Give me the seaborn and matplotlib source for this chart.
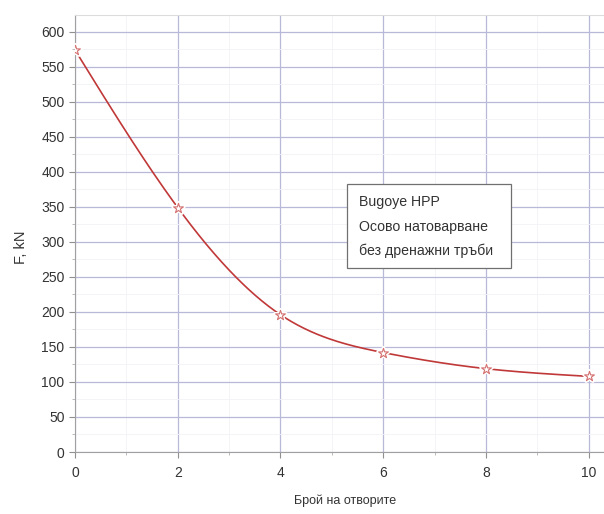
import numpy as np
import pandas as pd
import matplotlib
matplotlib.use("Agg")
import matplotlib.pyplot as plt
import seaborn as sns
from matplotlib.ticker import MultipleLocator
from matplotlib.patches import Rectangle

openings = [0, 2, 4, 6, 8, 10]
force_kn = [574, 349, 196, 142, 119, 108]
x_ticks = [0, 2, 4, 6, 8, 10]
y_ticks = [0, 50, 100, 150, 200, 250, 300, 350, 400, 450, 500, 550, 600]
legend_lines = ["Bugoye HPP", "Осово натоварване", "без дренажни тръби"]
x_label = "Брой на отворите"
y_label = "F, kN"


def natural_spline(x, y, xs):
    x = np.asarray(x, float); y = np.asarray(y, float)
    n = len(x); h = np.diff(x)
    A = np.zeros((n, n)); b = np.zeros(n)
    A[0, 0] = 1; A[-1, -1] = 1
    for i in range(1, n - 1):
        A[i, i - 1] = h[i - 1]; A[i, i] = 2 * (h[i - 1] + h[i]); A[i, i + 1] = h[i]
        b[i] = 6 * ((y[i + 1] - y[i]) / h[i] - (y[i] - y[i - 1]) / h[i - 1])
    M = np.linalg.solve(A, b)
    k = np.clip(np.searchsorted(x, xs) - 1, 0, n - 2)
    t0 = x[k + 1] - xs; t1 = xs - x[k]; hk = h[k]
    return (M[k] * t0**3 / (6 * hk) + M[k + 1] * t1**3 / (6 * hk)
            + (y[k] / hk - M[k] * hk / 6) * t0 + (y[k + 1] / hk - M[k + 1] * hk / 6) * t1)


sns.set_theme(style="white")
plt.rcParams['font.family'] = ['Liberation Sans', 'DejaVu Sans']

fig = plt.figure(figsize=(6.04, 5.14), dpi=100)
ax = fig.add_axes([75 / 604, 1 - 452 / 514, 1 - 75 / 604, (452 - 15) / 514])

xs = np.linspace(openings[0], openings[-1], 400)
curve = pd.DataFrame({"x": xs, "y": natural_spline(openings, force_kn, xs)})
pts = pd.DataFrame({"x": openings, "y": force_kn})

sns.lineplot(data=curve, x="x", y="y", ax=ax, color="#c03838", linewidth=1.2, zorder=3)
sns.scatterplot(data=pts, x="x", y="y", ax=ax, marker="*", s=70,
                facecolor="white", edgecolor="white", linewidth=2.5, zorder=4)
sns.scatterplot(data=pts, x="x", y="y", ax=ax, marker="*", s=55,
                facecolor="white", edgecolor="#d47070", linewidth=0.8, zorder=5)

ax.set_xlim(0, 10.3)
ax.set_ylim(0, 624)
ax.set_xticks(x_ticks)
ax.set_yticks(y_ticks)
ax.xaxis.set_minor_locator(MultipleLocator(1))
ax.yaxis.set_minor_locator(MultipleLocator(25))

ax.grid(which="major", color="#b8b8d8", linewidth=0.9, zorder=0)
ax.grid(which="minor", color="#f2f2f7", linewidth=0.6, zorder=0)
ax.set_axisbelow(True)

ax.spines["right"].set_visible(False)
ax.spines["top"].set_color("#dcdcdc")
ax.spines["left"].set_color("#a0a0a0")
ax.spines["bottom"].set_color("#a0a0a0")
for s in ax.spines.values():
    s.set_linewidth(0.8)

ax.tick_params(axis="both", which="major", direction="out", length=4, width=0.8,
               color="#909090", labelsize=10, labelcolor="#333333", bottom=True, left=True)
ax.tick_params(axis="both", which="minor", direction="out", length=2, width=0.6,
               color="#b0b0b0", bottom=True, left=True)
ax.tick_params(axis="x", pad=6)

ax.set_xlabel(x_label, fontsize=9, color="#333333", va="center")
ax.xaxis.set_label_coords((345 - 75) / 529, (452 - 501) / 437)
ax.set_ylabel(y_label, fontsize=10.5, color="#333333", va="center")
ax.yaxis.set_label_coords((21 - 75) / 529, (452 - 247) / 437)

# annotation box
x0, x1 = 347 / 604, 511 / 604
y0, y1 = 1 - 268 / 514, 1 - 184 / 514
fig.patches.append(Rectangle((x0, y0), x1 - x0, y1 - y0, transform=fig.transFigure,
                             facecolor="white", edgecolor="#707070", linewidth=0.9, zorder=6))
for i, line in enumerate(legend_lines):
    fig.text(359 / 604, 1 - (202 + 24.5 * i) / 514, line, fontsize=10.2, color="#333333",
             va="center", ha="left", zorder=7)

fig.savefig("out.png", dpi=100)
